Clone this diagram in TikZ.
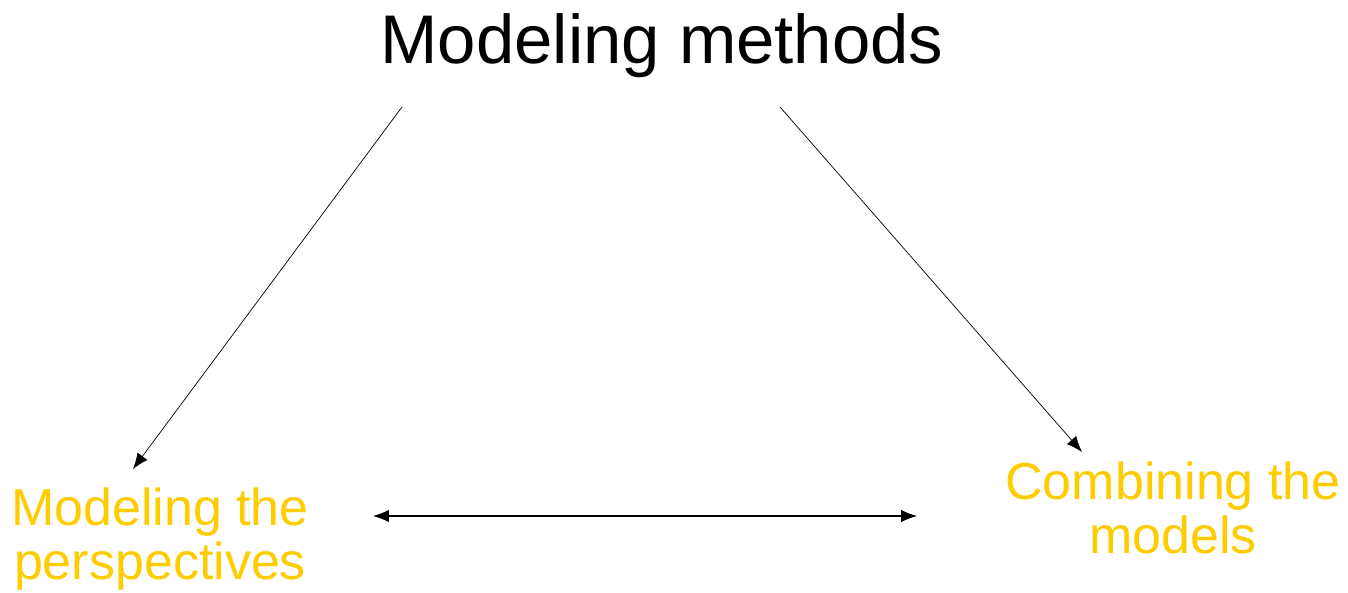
\documentclass[tikz,border=0pt]{standalone}
\usepackage{fontspec}
\setmainfont{Liberation Sans}
\usetikzlibrary{arrows.meta}
\definecolor{gold}{HTML}{FFCC00}
\tikzset{
  title/.style={font=\fontsize{39.2}{45}\selectfont, inner sep=0pt},
  part/.style={font=\fontsize{29.6}{30.7}\selectfont, text=gold, align=center, inner sep=0pt},
  link/.style={-{Latex[length=9pt,width=7pt]}, thin}
}
\begin{document}
\begin{tikzpicture}[x=0.02cm, y=-0.02cm]
\useasboundingbox (0,0) rectangle (1348,592);

% Titre
\node[title, anchor=base] (meth) at (662,63) {Modeling methods};

% Les deux parties
\node[part] (persp) at (160,539) {Modeling the\\perspectives};
\node[part] (comb) at (1173,508) {Combining the\\models};

% Départs et arrivées des flèches
\coordinate (lstart) at ([shift={(-260,44)}]meth.base);
\coordinate (lend) at ([shift={(-27,-70)}]persp.center);
\coordinate (rstart) at ([shift={(118,44)}]meth.base);
\coordinate (rend) at ([shift={(-91,-56)}]comb.center);
\coordinate (hleft) at ([shift={(213,-23)}]persp.center);
\coordinate (hright) at ([shift={(-256,8)}]comb.center);

\draw[link] (lstart) -- (lend);
\draw[link] (rstart) -- (rend);
\draw[{Latex[length=9pt,width=7pt]}-{Latex[length=9pt,width=7pt]}, semithick] (hleft) -- (hright);

\end{tikzpicture}
\end{document}
